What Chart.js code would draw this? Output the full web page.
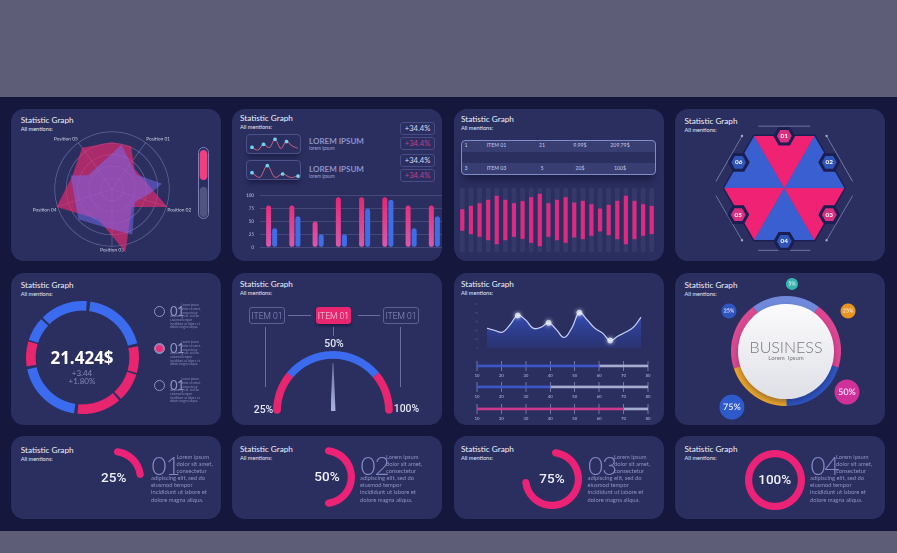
<!DOCTYPE html>
<html>
<head>
<meta charset="utf-8">
<title>Statistic Graph</title>
<script src="https://cdn.jsdelivr.net/npm/chart.js@4"></script>
<style>
html, body { margin: 0; padding: 0; background: #5d5d78; }
#root { position: relative; width: 897px; height: 553px; overflow: hidden; background: #5d5d78; font-family: Lato, sans-serif; }
#band { position: absolute; left: 0; top: 97px; width: 897px; height: 434px; background: #15173c; }
.card { position: absolute; background: #2b2f60; border-radius: 13px; }
.txt { position: absolute; white-space: nowrap; transform: translateY(-50%); line-height: 1; }
.box { position: absolute; box-sizing: border-box; }
canvas { position: absolute; }
</style>
</head>
<body>
<div id="root"><div id="band"></div></div>
<script>
// values
const radarLabels = ["", "", "", "Position 01", "", "", "", "", "", "Position 02", "", "", "", "", "", "Position 03", "", "", "", "", "", "Position 04", "", "", "", "", "", "Position 05", "", ""];
const radarPink = [82, null, 82, null, 53, null, null, null, null, 102, null, 47, null, null, 113, null, null, 58, null, null, null, 102, null, null, 73, null, null, 89, null, null];
const radarBlue = [null, 79, null, null, null, 50, null, 88, 68, null, 46, null, null, 87, null, null, 68, null, null, 79, null, null, null, null, 76, 48, null, null, null, null];
const meterLabels = ["a"];
const meterTop = [[55, 100]];
const meterBottom = [[0, 45]];
const spark1 = [29, 12, 48, 27, 79, 23, 65, 38, 23];
const spark2 = [33, 4, 77, 4, 25, 4, 12];
const barTicks = [0, 25, 50, 75, 100];
const barCats = ["A", "B", "C", "D", "E", "F", "G", "H"];
const barsPink = [81, 81, 50, 97, 97, 97, 81, 81];
const barsBlue = [37, 60, 25, 25, 75, 92, 37, 60];
const badges = ["+34.4%", "+34.4%", "+34.4%", "+34.4%"];
const tableRow1 = ["1", "ITEM 01", "21", "9.99$", "209.79$"];
const tableRow3 = ["3", "ITEM 03", "5", "20$", "100$"];
const waveAmp = [32, 42, 50, 60, 72, 60, 50, 56, 68, 78, 50, 60, 68, 52, 57, 47, 34, 45, 57, 72, 57, 47, 42];
const hexX = [-1, -0.5, 0.5, 1, 0.5, -0.5];
const hexY = [0, 0.866, 0.866, 0, -0.866, -0.866];
const hexColors = ["#ef2274", "#3a5fd0", "#ef2274", "#3a5fd0", "#ef2274", "#3a5fd0"];
const bracketX = [[-0.433, 0.433], [0.705, 1.139], [1.139, 0.705], [0.433, -0.433], [-0.705, -1.139], [-1.139, -0.705]];
const bracketY = [[1.03, 1.03], [0.866, 0.11], [-0.127, -0.87], [-1.037, -1.037], [-0.87, -0.127], [0.11, 0.866]];
const ringValues = [71, 29, 31, 48, 73, 27, 26, 52];
const ringColors = ["#3b6cf0", "#e8256f", "#e8256f", "#e8256f", "#3b6cf0", "#e8256f", "#3b6cf0", "#3b6cf0"];
const gaugeValues = [43, 100, 43];
const lineX = ["0", "", "", "", "10", "", "", "", "20", "", "", "", "30", "", "", "", "40", "", "", "", "50"];
const lineValues = [45, 40, 36, 53, 74, 64, 45, 47, 57, 42, 24, 45, 80, 64, 45, 34, 17, 27, 36, 47, 70];
const lineGlow = [null, null, null, null, 74, null, null, null, 57, null, null, null, 80, null, null, null, 17, null, null, null, null];
const sliderTicks = [10, 20, 30, 40, 50, 60, 70, 80];
const sliderValues = [60, 40, 70];
const sliderColors = ["#3d57c9", "#3d57c9", "#cc3a8c"];
const businessValues = [73, 71, 72, 72, 72];
const businessColors = ["#7089da", "#dd4690", "#2f55c0", "#e9a52b", "#d94a90"];
const bubbleX = [55.7, 25.7, 82.4, 81.9, 27.1];
const bubbleY = [92.8, 75, 75, 21.7, 11.8];
const bubbleR = [6, 7.5, 7.5, 12.5, 12.5];
const bubbleText = ["5%", "25%", "25%", "50%", "75%"];
const bubbleColors = ["#35b5b0", "#2f55c0", "#e8951f", "#d0309a", "#2f5acb"];
const arcPercents = [25, 50, 75, 100];
const loremTop = ["Lorem ipsum", "dolor sit amet,", "consectetur"];
const loremRest = ["adipiscing elit, sed do", "eiusmod tempor", "incididunt ut labore et", "dolore magna aliqua."];

const root = document.getElementById("root");
Chart.defaults.animation = false;
Chart.defaults.responsive = false;
Chart.defaults.devicePixelRatio = 2;
Chart.defaults.font.family = "Lato";
Chart.defaults.layout.autoPadding = false;
Chart.defaults.plugins.legend.display = false;
Chart.defaults.plugins.tooltip.enabled = false;

function addBox(x, y, w, h, css) {
    const d = document.createElement("div");
    d.className = "box";
    d.style.cssText = `left:${x}px;top:${y}px;width:${w}px;height:${h}px;${css || ""}`;
    root.appendChild(d);
    return d;
}

function addText(x, y, str, css) {
    const d = document.createElement("div");
    d.className = "txt";
    d.textContent = str;
    d.style.cssText = `left:${x}px;top:${y}px;${css || ""}`;
    root.appendChild(d);
    return d;
}

function addCanvas(x, y, w, h) {
    const c = document.createElement("canvas");
    c.width = w;
    c.height = h;
    c.style.left = x + "px";
    c.style.top = y + "px";
    root.appendChild(c);
    return c;
}

function addCard(x, y, w, h, tx, ty) {
    const d = document.createElement("div");
    d.className = "card";
    d.style.cssText = `left:${x}px;top:${y}px;width:${w}px;height:${h}px;`;
    root.appendChild(d);
    addText(tx, ty, "Statistic Graph", "font-size:8.2px;color:#eef0fa;");
    addText(tx, ty + 8.8, "All mentions:", "font-size:5.6px;color:#e4e6f5;");
}

function vGradient(ctx, top, bottom) {
    const area = ctx.chart.chartArea;
    if (!area) return top;
    const g = ctx.chart.ctx.createLinearGradient(0, area.top, 0, area.bottom);
    g.addColorStop(0, top);
    g.addColorStop(1, bottom);
    return g;
}

const hidden = { display: false };
const centered = "transform:translate(-50%,-50%);";

addCard(11, 109, 210, 152, 20.7, 120);
addCard(232, 109, 210, 152, 240, 118.3);
addCard(454, 109, 210, 152, 461, 119);
addCard(675, 109, 210, 152, 684.6, 121);
addCard(11, 273, 210, 152, 20.7, 285.3);
addCard(232, 273, 210, 152, 240, 283.7);
addCard(454, 273, 210, 152, 461, 283.7);
addCard(675, 273, 210, 152, 684.6, 285);
addCard(11, 436, 210, 83, 20.7, 450);
addCard(232, 436, 210, 83, 240, 448.7);
addCard(454, 436, 210, 83, 461, 448.7);
addCard(675, 436, 210, 83, 684.6, 448.7);

// radar
new Chart(addCanvas(28, 125, 170, 128), {
    type: "radar",
    data: {
        labels: radarLabels,
        datasets: [
            { data: radarBlue, order: 1, spanGaps: true, fill: true, backgroundColor: "rgba(120,110,245,0.5)", borderWidth: 0, pointRadius: 0, tension: 0 },
            { data: radarPink, order: 2, spanGaps: true, fill: true, backgroundColor: "rgba(236,42,112,0.65)", borderWidth: 0, pointRadius: 0, tension: 0 }
        ]
    },
    options: {
        scales: {
            r: {
                min: 0, max: 100,
                ticks: { display: false, stepSize: 20 },
                grid: { color: "rgba(150,155,200,0.55)", lineWidth: 0.7, circular: true },
                angleLines: { color: (c) => radarLabels[c.index] ? "rgba(150,155,200,0.55)" : "transparent", lineWidth: 0.7 },
                pointLabels: { color: "#d6d8ee", font: { size: 4.8 }, padding: 1 }
            }
        }
    }
});

// meter
addBox(198, 147, 11, 72, "border:1px solid #7b7fb5;border-radius:6px;");
new Chart(addCanvas(199, 150, 9, 67), {
    type: "bar",
    data: {
        labels: meterLabels,
        datasets: [
            { data: meterTop, backgroundColor: "#ef3f80", borderRadius: 4, borderSkipped: false, grouped: false, barPercentage: 1, categoryPercentage: 0.85 },
            { data: meterBottom, backgroundColor: "#50547e", borderRadius: 4, borderSkipped: false, grouped: false, barPercentage: 1, categoryPercentage: 0.85 }
        ]
    },
    options: { scales: { x: hidden, y: { display: false, min: 0, max: 100 } } }
});

// sparklines
[[134, spark1, 136], [160, spark2, 162]].forEach(([boxY, values, canvasY]) => {
    addBox(246, boxY, 55, 20, "border:1px solid #4c5189;border-radius:4px;box-shadow:0 5px 5px -2px rgba(15,16,50,0.55);");
    new Chart(addCanvas(246, canvasY, 55, 16), {
        type: "line",
        data: {
            labels: values.map((v, i) => i),
            datasets: [{
                data: values,
                borderColor: "#d9657e",
                borderWidth: 0.8,
                tension: 0.4,
                pointRadius: values.map((v, i) => (i % 2 === 0 && i < 7) ? 1.8 : 0),
                pointBackgroundColor: "#72d3f2",
                pointBorderWidth: 0
            }]
        },
        options: {
            layout: { padding: { left: 6, right: 3 } },
            scales: { x: hidden, y: { display: false, min: 0, max: 100 } }
        }
    });
});
addText(309, 141, "LOREM IPSUM", "font-size:8px;font-weight:700;color:#8e92c8;");
addText(309, 148, "lorem ipsum", "font-size:4.8px;color:#9ea2cc;");
addText(309, 169, "LOREM IPSUM", "font-size:8px;font-weight:700;color:#8e92c8;");
addText(309, 175.5, "lorem ipsum", "font-size:4.8px;color:#9ea2cc;");
badges.forEach((b, i) => {
    const y = [122, 137, 154, 169][i];
    addBox(400, y, 35, 13, "border:1px solid #474c84;border-radius:3px;");
    addText(417.5, y + 6.5, b, `font-size:7.6px;${centered}color:${i % 2 ? "#c0408c" : "#d8daf0"};`);
});

// grouped bars
const barCanvas = addCanvas(232, 187, 214, 69);
barCanvas.style.clipPath = "inset(0 4px 0 0)";
new Chart(barCanvas, {
    type: "bar",
    data: {
        labels: barCats,
        datasets: [
            { data: barsPink, backgroundColor: (c) => vGradient(c, "#e8256f", "#d85aae"), borderRadius: 2.5, borderSkipped: false },
            { data: barsBlue, backgroundColor: "#3f6de8", borderRadius: 2.5, borderSkipped: false }
        ]
    },
    options: {
        layout: { padding: { top: 2, bottom: 1, left: 0, right: 0 } },
        datasets: { bar: { categoryPercentage: 0.52, barPercentage: 0.83 } },
        scales: {
            x: hidden,
            y: {
                min: 0, max: 100,
                afterBuildTicks: (a) => { a.ticks = barTicks.map((v) => ({ value: v })); },
                afterFit: (a) => { a.width = 28; },
                grid: { color: "rgba(130,135,185,0.4)", lineWidth: 0.8, drawTicks: false },
                border: { display: false },
                ticks: { color: "#c9cbe6", font: { size: 4.5 }, padding: 6 }
            }
        }
    }
});

// table
addBox(461, 140, 195, 35, "border:1px solid #7f8cc8;border-radius:4px;background:#383e72;box-shadow:0 7px 8px -3px rgba(12,13,40,0.6);");
addBox(462, 152, 193, 11, "background:#2a2f60;");
[466, 495.5, 541, 579, 619].forEach((x, i) => {
    const align = i ? centered : "transform:translateY(-50%);";
    addText(i ? x + 1 : x - 1.5, 146, tableRow1[i], "font-size:5.2px;color:#c5c8e6;" + align);
    addText(i ? x + 1 : x - 1.5, 169, tableRow3[i], "font-size:5.2px;color:#c5c8e6;" + align);
});

// waveform
new Chart(addCanvas(458, 188, 198, 64), {
    type: "bar",
    data: {
        labels: waveAmp.map((v, i) => i + 1),
        datasets: [
            { data: waveAmp.map((a) => [-a, a]), backgroundColor: "#de2a80", grouped: false, barPercentage: 0.48, categoryPercentage: 1, order: 1 },
            { data: waveAmp.map(() => [-95, 95]), backgroundColor: "rgba(95,105,155,0.18)", grouped: false, barPercentage: 0.55, categoryPercentage: 1, order: 2 }
        ]
    },
    options: { scales: { x: hidden, y: { display: false, min: -95, max: 95 } } }
});

// hexagon
const hexDatasets = [{
    data: hexX.concat(hexX[0]).map((x, i) => ({ x: x, y: hexY[i % 6] })),
    order: 10, showLine: true, fill: "shape", backgroundColor: "#1b1e52", borderColor: "#1b1e52", borderWidth: 3, pointRadius: 0, clip: false
}];
hexColors.forEach((color, i) => {
    const a = (i + 1) % 6, b = (i + 2) % 6;
    hexDatasets.push({
        data: [{ x: 0, y: 0 }, { x: hexX[a], y: hexY[a] }, { x: hexX[b], y: hexY[b] }, { x: 0, y: 0 }],
        order: 5, showLine: true, fill: "shape", backgroundColor: color, borderColor: color, borderWidth: 0.3, pointRadius: 0
    });
});
bracketX.forEach((xs, i) => {
    hexDatasets.push({
        data: xs.map((x, j) => ({ x: x, y: bracketY[i][j] })),
        order: 1, showLine: true, borderColor: "#868ab2", borderWidth: 0.7, pointRadius: 1.2, pointBackgroundColor: "#a4a8cc", pointBorderWidth: 0, clip: false
    });
});
new Chart(addCanvas(675, 109, 210, 152), {
    type: "scatter",
    data: { datasets: hexDatasets },
    options: {
        layout: { padding: { left: 49.3, right: 40.7, top: 27, bottom: 21 } },
        scales: { x: { display: false, min: -1, max: 1 }, y: { display: false, min: -0.866, max: 0.866 } }
    }
});
const hexShape = "clip-path:polygon(25% 0,75% 0,100% 50%,75% 100%,25% 100%,0 50%);";
[[784.3, 136], [829.3, 162.3], [829.3, 214.7], [784.3, 241.3], [738.3, 214.7], [738.7, 162.3]].forEach(([x, y], i) => {
    const inner = i === 0 || i === 2 || i === 4 ? "#d8307f" : "#2f55b8";
    addBox(x - 11, y - 9.5, 22, 19, "background:#1b1e52;" + hexShape);
    addBox(x - 7.5, y - 6.5, 15, 13, `background:${inner};` + hexShape);
    addText(x, y, "0" + (i + 1), "font-size:6.4px;font-weight:700;color:#fff;" + centered);
});

// segmented ring
new Chart(addCanvas(25.5, 300.5, 113, 113), {
    type: "doughnut",
    data: { labels: ringValues.map((v, i) => i + 1), datasets: [{ data: ringValues, backgroundColor: ringColors, borderWidth: 0, spacing: 6 }] },
    options: { rotation: 6, cutout: "82%" }
});
addText(82, 357, "21.424$", "font-family:'Open Sans';font-size:17px;font-weight:700;color:#fff;" + centered);
addText(82, 373, "+3.44", "font-size:8px;color:#8388b8;" + centered);
addText(82, 381, "+1.80%", "font-size:8px;color:#8388b8;" + centered);
[311, 348, 385].forEach((y, i) => {
    addBox(153.5, y - 5.5, 11, 11, "border:1px solid #8f93bb;border-radius:50%;" + (i === 1 ? "background:#ec2d7c;box-shadow:0 0 0 1px #8f93bb inset;" : ""));
    addText(170, y, "01", "font-size:13px;letter-spacing:-0.5px;color:#9094c4;");
    loremTop.forEach((s, j) => addText(181.5, y - 5 + j * 3.8, s, "font-size:3.1px;color:#8589b8;"));
    loremRest.forEach((s, j) => addText(170, y + 6 + j * 3.8, s, "font-size:3.1px;color:#8589b8;"));
});

// gauge
new Chart(addCanvas(273, 351, 120, 63), {
    type: "doughnut",
    data: {
        labels: ["low", "mid", "high"],
        datasets: [{
            data: gaugeValues,
            backgroundColor: ["#e8256f", "#3b6cf0", "#e8256f"],
            borderWidth: 0,
            borderRadius: (c) => c.dataIndex === 0 ? { outerStart: 4, innerStart: 4, outerEnd: 0, innerEnd: 0 } : c.dataIndex === 2 ? { outerEnd: 4, innerEnd: 4, outerStart: 0, innerStart: 0 } : 0
        }]
    },
    options: { rotation: -93, circumference: 186, cutout: "87%" }
});
addBox(330.5, 363, 5, 48, "background:linear-gradient(#6e76a6,#a9b2dc);clip-path:polygon(42% 0,58% 0,100% 100%,0 100%);");
addBox(249, 307, 36, 17, "border:1px solid #5c6198;border-radius:3px;");
addBox(316, 307, 35, 17, "background:#e8256f;border-radius:3px;box-shadow:0 2px 3px rgba(15,16,50,0.6);");
addBox(383, 307, 36, 17, "border:1px solid #5c6198;border-radius:3px;");
const itemFont = "font-family:Roboto;font-weight:300;font-size:8.6px;";
addText(267, 315.5, "ITEM 01", itemFont + "color:#9095c8;" + centered);
addText(333.5, 315.5, "ITEM 01", itemFont + "color:#f8dbe8;" + centered);
addText(401, 315.5, "ITEM 01", itemFont + "color:#9095c8;" + centered);
addBox(288, 315, 23, 1, "background:#6a6f9f;");
addBox(358, 315, 22, 1, "background:#6a6f9f;");
addBox(265, 327, 1, 60, "background:#6a6f9f;");
addBox(333, 327, 1, 9, "background:#6a6f9f;");
addBox(400, 327, 1, 60, "background:#6a6f9f;");
const gaugeFont = "font-family:Roboto;font-weight:500;font-size:10.4px;color:#e4e6f5;" + centered;
addText(334, 344, "50%", gaugeFont);
addText(263.5, 409.5, "25%", gaugeFont);
addText(406.5, 408.5, "100%", gaugeFont);

// area line
const glowPlugin = {
    id: "glow",
    beforeDatasetDraw(chart, args) {
        if (args.index === 0) {
            chart.ctx.save();
            chart.ctx.shadowColor = "#ffffff";
            chart.ctx.shadowBlur = 8;
        }
    },
    afterDatasetDraw(chart, args) {
        if (args.index === 0) chart.ctx.restore();
    }
};
new Chart(addCanvas(475, 298, 170, 57), {
    type: "line",
    data: {
        labels: lineX,
        datasets: [
            { data: lineGlow, showLine: false, pointRadius: 3, pointBackgroundColor: "rgba(235,242,255,0.75)", pointBorderWidth: 0 },
            {
                data: lineValues,
                fill: true,
                backgroundColor: (c) => vGradient(c, "rgba(58,92,225,0.9)", "rgba(44,62,150,0.35)"),
                borderColor: "#c6d2f5",
                borderWidth: 1.2,
                tension: 0.4,
                pointRadius: 0
            }
        ]
    },
    options: {
        layout: { padding: { left: 0, right: 4, top: 6, bottom: 0 } },
        scales: {
            x: {
                grid: { display: false }, border: { display: false },
                afterFit: (a) => { a.height = 7; },
                ticks: { color: "#4f8f8a", font: { size: 3.2 }, padding: 1, maxRotation: 0, autoSkip: false }
            },
            y: {
                min: 0, max: 100,
                grid: { display: false }, border: { display: false },
                afterFit: (a) => { a.width = 12; },
                ticks: { stepSize: 20, color: "#4f5a9c", font: { size: 3.2 }, padding: 1 }
            }
        }
    },
    plugins: [glowPlugin]
});

// sliders
sliderValues.forEach((v, i) => {
    new Chart(addCanvas(471, 360 + [0, 21, 43][i], 183, 20), {
        type: "bar",
        data: {
            labels: ["row"],
            datasets: [
                { data: [[10, v]], backgroundColor: sliderColors[i], grouped: false, barThickness: 2 },
                { data: [[v, 80]], backgroundColor: "#a8abd0", grouped: false, barThickness: 2 }
            ]
        },
        options: {
            indexAxis: "y",
            layout: { padding: { left: 6, right: 6, top: 1 } },
            scales: {
                y: hidden,
                x: {
                    min: 10, max: 80,
                    afterBuildTicks: (a) => { a.ticks = sliderTicks.map((t) => ({ value: t })); },
                    grid: { color: "#8f95c6", lineWidth: 0.7, drawTicks: false },
                    border: { display: false },
                    ticks: { color: "#c3c6e4", font: { size: 4.2 }, padding: 2, maxRotation: 0 }
                }
            }
        }
    });
});

// business ring
new Chart(addCanvas(731, 296, 110, 110), {
    type: "doughnut",
    data: { labels: businessValues.map((v, i) => i + 1), datasets: [{ data: businessValues, backgroundColor: businessColors, borderWidth: 0 }] },
    options: { rotation: -36.6, cutout: "70%" }
});
addBox(738.3, 303.6, 95.4, 95.4, "border-radius:50%;background:linear-gradient(#fbfbfd,#dfe0e6);box-shadow:0 3px 5px rgba(20,20,60,0.35);");
addText(786, 347, "BUSINESS", "font-size:16px;font-weight:300;color:#77777f;" + centered);
addText(786, 358, "Lorem  Ipsum", "font-size:6px;color:#77777f;white-space:pre;" + centered);
const bubbleLabels = {
    id: "bubbleLabels",
    afterDatasetsDraw(chart) {
        const ctx = chart.ctx;
        chart.getDatasetMeta(0).data.forEach((pt, i) => {
            ctx.save();
            ctx.fillStyle = "#f2f3fb";
            ctx.font = "600 " + (bubbleR[i] > 10 ? 9 : 5.4) + "px Lato";
            ctx.textAlign = "center";
            ctx.textBaseline = "middle";
            ctx.fillText(bubbleText[i], pt.x, pt.y);
            ctx.restore();
        });
    }
};
new Chart(addCanvas(675, 273, 210, 152), {
    type: "bubble",
    data: { datasets: [{ data: bubbleX.map((x, i) => ({ x: x, y: bubbleY[i], r: bubbleR[i] })), backgroundColor: bubbleColors, borderWidth: 0, clip: false }] },
    options: { scales: { x: { display: false, min: 0, max: 100 }, y: { display: false, min: 0, max: 100 } } },
    plugins: [bubbleLabels]
});

// percent arcs
const arcCenters = [[113.7, 477.7], [325, 477], [552, 478.7], [774.7, 479.7]];
const numberX = [151.5, 360.5, 588, 810.5];
const loremX = [176.5, 386, 614, 836];
arcPercents.forEach((p, i) => {
    const [cx, cy] = arcCenters[i];
    new Chart(addCanvas(cx - 30, cy - 30, 60, 60), {
        type: "doughnut",
        data: {
            labels: ["done", "rest"],
            datasets: [{
                data: [p, 100 - p],
                backgroundColor: ["#ec2277", "transparent"],
                borderWidth: 0,
                borderRadius: (c) => (c.dataIndex === 0 && p < 100) ? 3.5 : 0
            }]
        },
        options: { cutout: "76%" }
    });
    addText(cx + (p === 50 ? 2 : 0), cy, p + "%", "font-family:Roboto;font-weight:500;font-size:13.5px;color:#f0f1fa;" + centered);
    addText(numberX[i], 465, "0" + (i + 1), "font-size:26px;letter-spacing:-1px;font-weight:300;color:#8188c4;");
    loremTop.forEach((s, j) => addText(loremX[i], 456.5 + j * 7.2, s, "font-size:5.8px;color:#8d92c4;"));
    loremRest.forEach((s, j) => addText(numberX[i] - 0.5, 478 + j * 7.2, s, "font-size:5.8px;color:#8d92c4;"));
});
</script>
</body>
</html>
